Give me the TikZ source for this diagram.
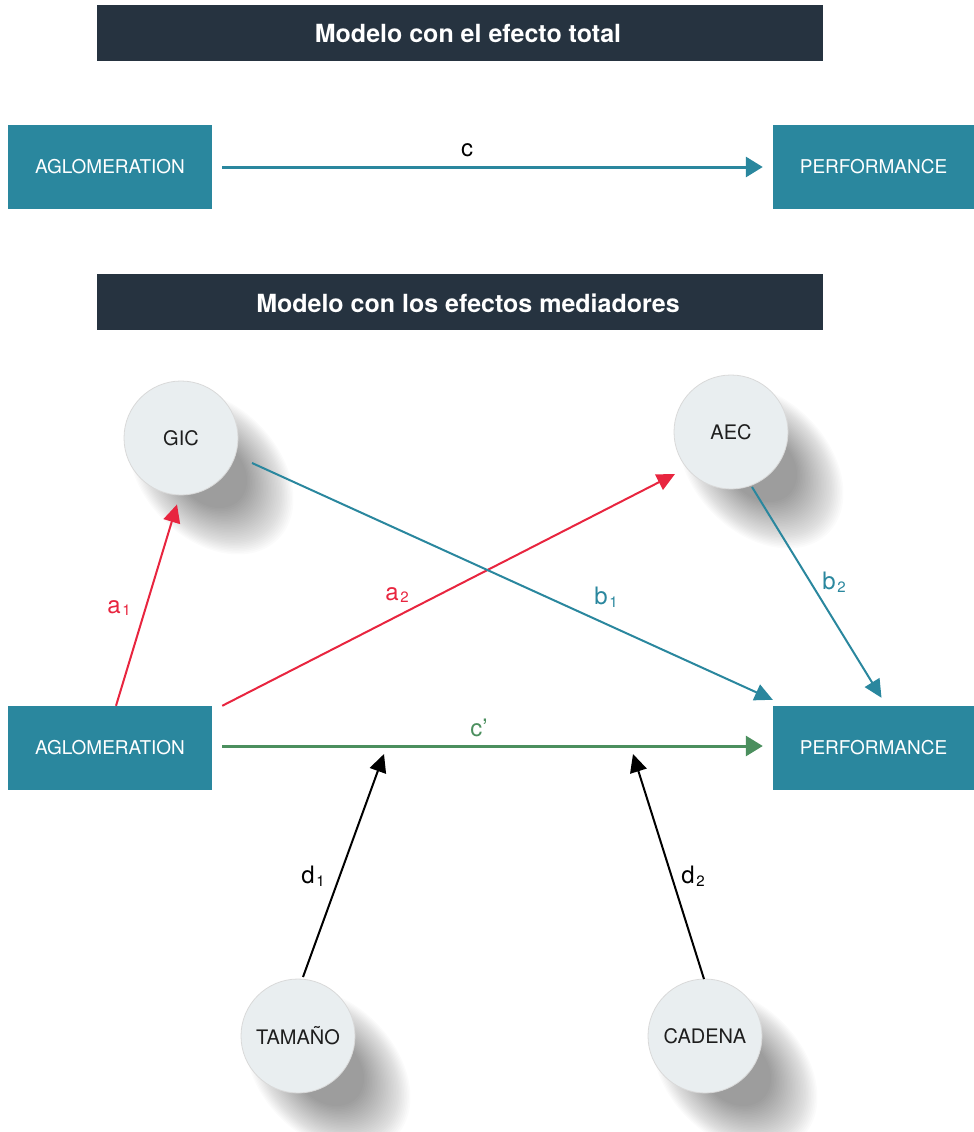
\documentclass[tikz,border=0pt]{standalone}
\usepackage{fontspec}
\setmainfont{TeX Gyre Heros}
\usetikzlibrary{arrows.meta,calc}
\definecolor{teal1}{HTML}{2A879E}
\definecolor{red1}{HTML}{E8253F}
\definecolor{green1}{HTML}{4B8F5E}
\definecolor{dark1}{HTML}{263340}
\definecolor{circfill}{HTML}{E9EEF0}
\definecolor{txt}{HTML}{1E1E1E}
\newcommand\lsub[1]{\kern1.5pt\raisebox{-2.5pt}{\fontsize{15}{15}\selectfont #1}}
\begin{document}
\begin{tikzpicture}[x=1pt,y=-1pt,
 bar/.style={fill=dark1, minimum width=726pt, minimum height=56pt, inner sep=0pt},
 bartext/.style={text=white, inner sep=0pt, font=\fontsize{25}{30}\selectfont\bfseries},
 box/.style={fill=teal1, text=white, minimum height=84pt, inner sep=0pt, font=\fontsize{19}{23}\selectfont},
 circnode/.style={circle, fill=circfill, draw=black!15, line width=0.8pt, minimum size=114pt, inner sep=0pt, text=txt, font=\fontsize{20}{24}\selectfont},
 lab/.style={font=\fontsize{24}{28}\selectfont, inner sep=0pt},
 harrow/.style={line width=3pt, -{Triangle[length=17pt,width=20pt]}, shorten <=10pt, shorten >=10pt},
 darrow/.style={line width=2pt, -{Triangle[length=18pt,width=17pt]}},
]
\useasboundingbox (0,0) rectangle (974,1132);

% title bars
\node[bar] (t1) at (460,33) {};
\node[bartext] (t1txt) at (468,34) {Modelo con el efecto total};
\node[bar] (t2) at (460,302) {};
\node[bartext] (t2txt) at (468,303) {Modelo con los efectos mediadores};

% top model
\node[box, minimum width=204pt] (ag1) at (110,167) {AGLOMERATION};
\node[box, minimum width=201pt] (pf1) at (873.5,167) {PERFORMANCE};
\draw[harrow, teal1] (ag1.east) -- (pf1.west);
\node[lab] (lc) at (467,150) {c};

% soft shadows of circles
\foreach \cx/\cy in {181/438, 731/432, 298/1036, 705/1036} {
  \foreach \i in {1,...,30} {
    \fill[black, opacity=0.016] (\cx+30, \cy+34) circle[x radius=38pt+\i*1.9pt, y radius=30pt+\i*1.25pt, rotate=-45];
  }
}

% mediation model
\node[box, minimum width=204pt] (ag2) at (110,748) {AGLOMERATION};
\node[box, minimum width=201pt] (pf2) at (873.5,748) {PERFORMANCE};
\node[circnode] (gic) at (181,438) {GIC};
\node[circnode] (aec) at (731,432) {AEC};
\node[circnode] (tam) at (298,1036) {TAMAÑO};
\node[circnode] (cad) at (705,1036) {CADENA};

\coordinate (m1) at (384,754);
\coordinate (m2) at (633,754);

\draw[harrow, green1] ([yshift=2pt]ag2.east) -- ([yshift=2pt]pf2.west);
\draw[darrow, red1] ([xshift=6pt]ag2.north) -- ([xshift=-4pt,yshift=-9pt]gic.south);
\draw[darrow, red1] ([xshift=10pt]ag2.north east) -- ([shift={(-56pt,-42pt)}]aec.center);
\draw[darrow, teal1] ([shift={(71pt,-25pt)}]gic.center) -- ([yshift=6pt]pf2.north west);
\draw[darrow, teal1] ([shift={(21pt,-55pt)}]aec.center) -- ([shift={(8pt,8pt)}]pf2.north);
\draw[darrow, black] ([shift={(5pt,59pt)}]tam.center) -- (m1);
\draw[darrow, black] ([shift={(-1pt,57pt)}]cad.center) -- (m2);

% labels
\node[lab, text=green1] (lcp) at (479,728) {c’};
\node[lab, text=red1] (la1) at (119,608) {a\lsub{1}};
\node[lab, text=red1] (la2) at (397,595) {a\lsub{2}};
\node[lab, text=teal1] (lb1) at (606,597) {b\lsub{1}};
\node[lab, text=teal1] (lb2) at (834,582) {b\lsub{2}};
\node[lab] (ld1) at (313,876) {d\lsub{1}};
\node[lab] (ld2) at (693,876) {d\lsub{2}};
\end{tikzpicture}
\end{document}
